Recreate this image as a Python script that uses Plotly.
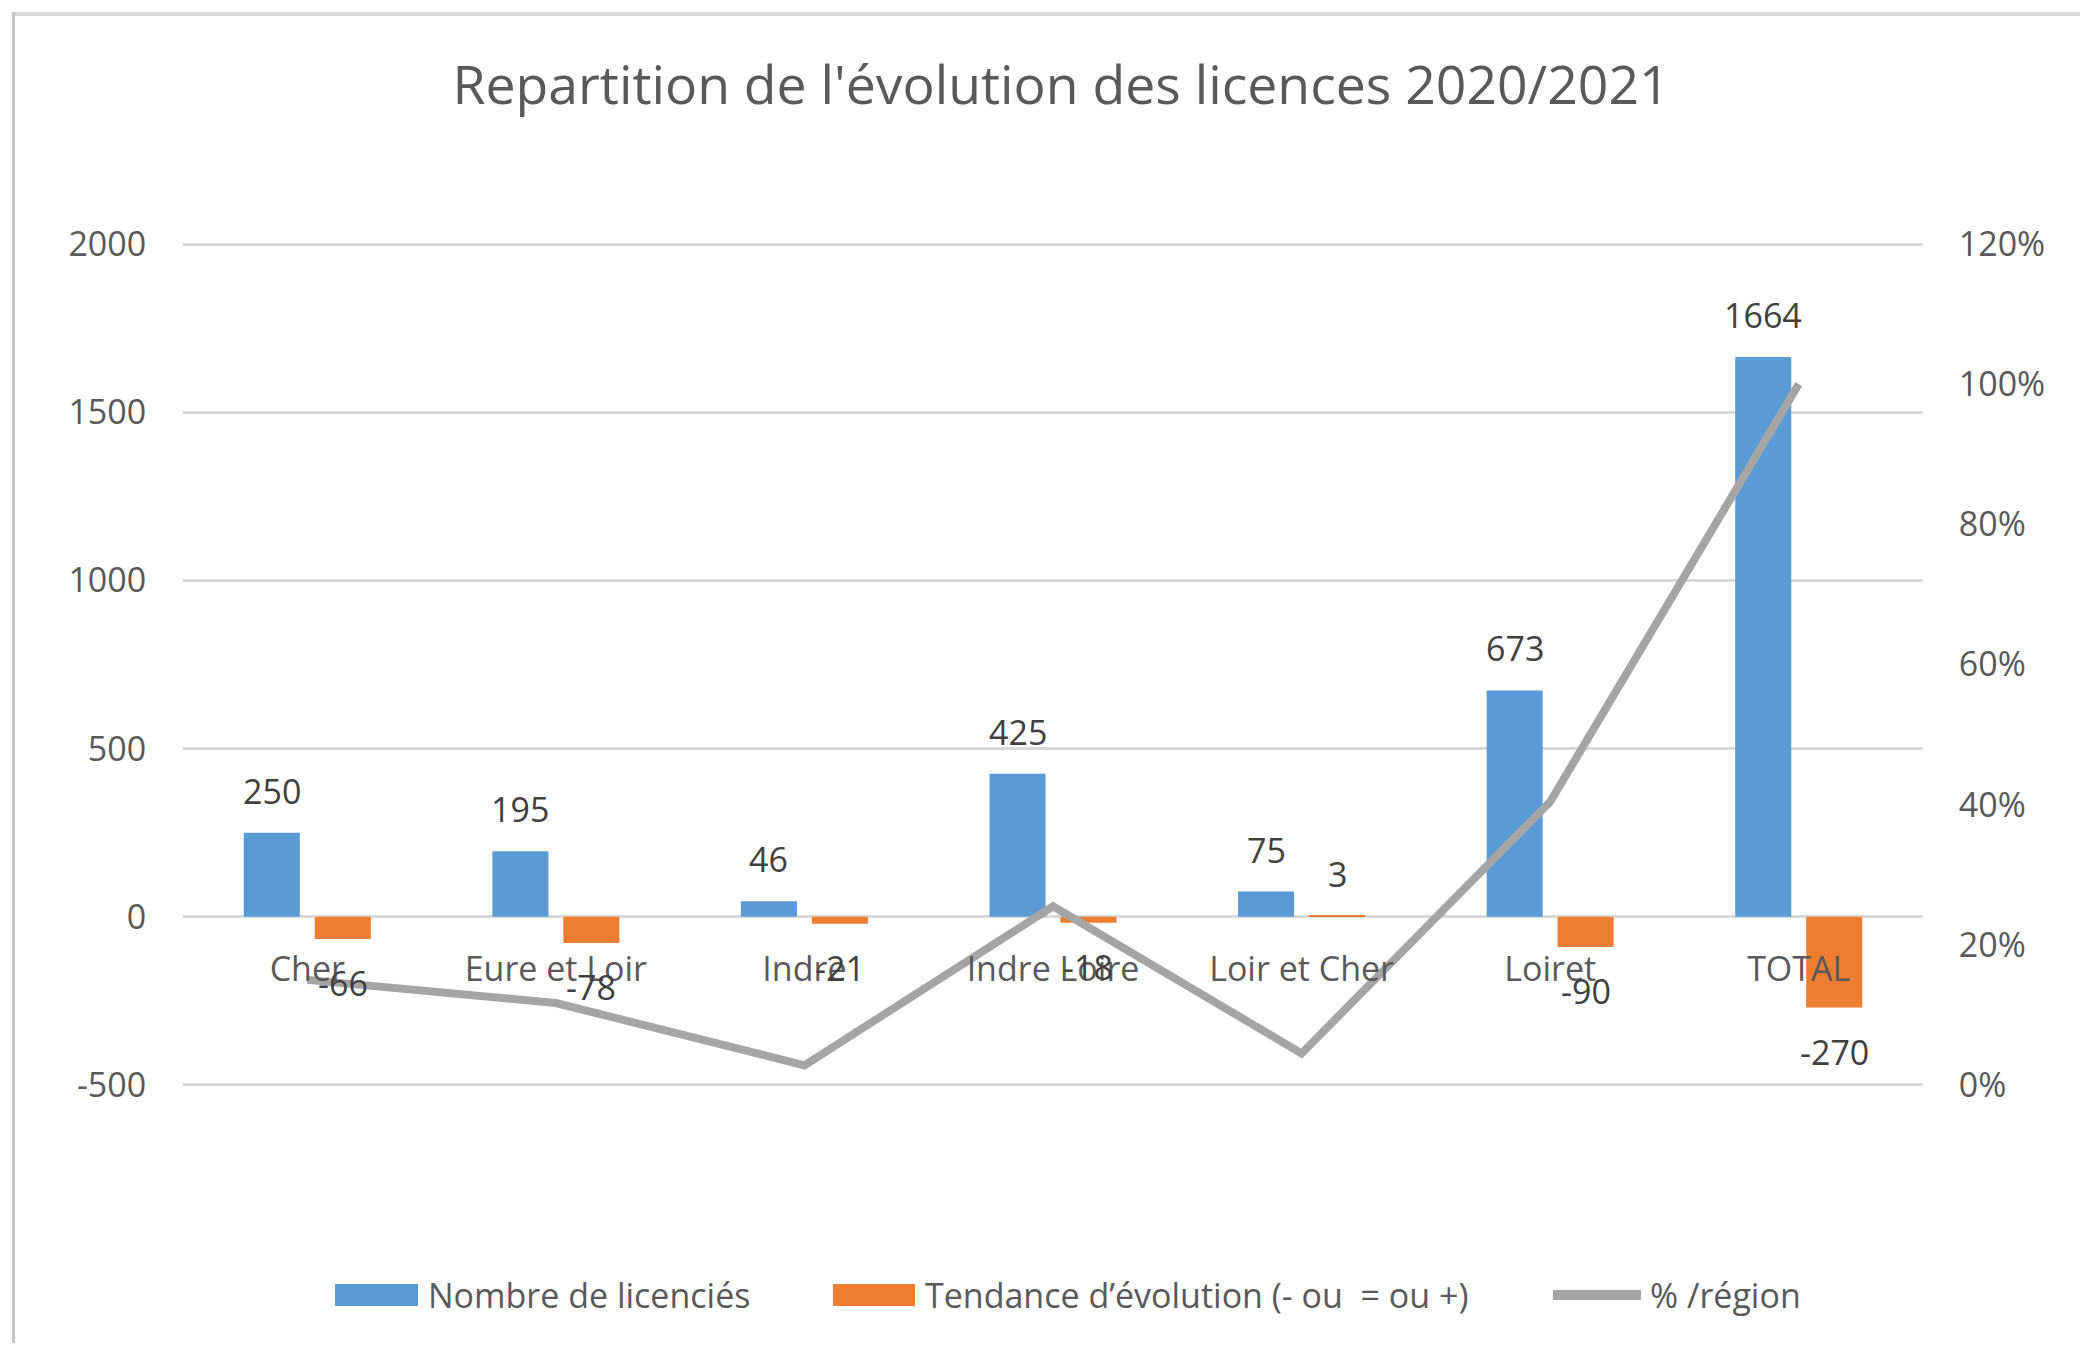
import plotly.graph_objects as go

# ---- data ----
categories = ["Cher", "Eure et Loir", "Indre", "Indre Loire", "Loir et Cher", "Loiret", "TOTAL"]
licencies = [250, 195, 46, 425, 75, 673, 1664]
tendance = [-66, -78, -21, -18, 3, -90, -270]
pct_region = [0.15, 0.117, 0.028, 0.255, 0.045, 0.404, 1.0]

left_ticks = [-500, 0, 500, 1000, 1500, 2000]
right_ticks = [0, 0.2, 0.4, 0.6, 0.8, 1.0, 1.2]
series_names = ["Nombre de licenciés", "Tendance d’évolution (- ou  = ou +)", "% /région"]

# ---- style ----
# page body has an 8px margin, so the figure is 16px smaller than the window
W, H = 2072, 1335
ML, MR, MT, MB = 175, 157, 235, 257
BLUE = "#5B9BD5"
ORANGE = "#ED7D31"
GRAY = "#A5A5A5"
GRID = "#D9D9D9"
TXT = "#595959"
LBL = "#404040"
FONT = "Open Sans"
FS = 34
PAD = 3  # axis range padding so the edge gridlines are drawn

plot_w = W - ML - MR
plot_h = H - MT - MB


def px(fx):
    return (fx - ML) / plot_w


def py(fy):
    return (H - MB - fy) / plot_h


fig = go.Figure()
fig.add_trace(go.Bar(x=categories, y=licencies, name=series_names[0], showlegend=False,
                     marker=dict(color=BLUE, line=dict(width=0))))
fig.add_trace(go.Bar(x=categories, y=tendance, name=series_names[1], showlegend=False,
                     marker=dict(color=ORANGE, line=dict(width=0))))
fig.add_trace(go.Scatter(x=categories, y=pct_region, name=series_names[2], yaxis="y2",
                         showlegend=False, mode="lines",
                         line=dict(color=GRAY, width=8)))

# data labels
BARGAP = 0.429
cat_w = plot_w / len(categories)
off = cat_w * (1 - BARGAP) / 4
annots = []
for i, c in enumerate(categories):
    for vals, sh in ((licencies, -off), (tendance, off)):
        v = vals[i]
        annots.append(dict(x=c, y=v, xref="x", yref="y", text=str(v), showarrow=False,
                           xshift=sh, yshift=42 if v >= 0 else -44,
                           font=dict(family=FONT, size=FS, color=LBL)))

# custom legend (swatches + real text)
LEG_Y = 1287
shapes = [
    dict(type="rect", xref="paper", yref="paper", x0=px(327), x1=px(410),
         y0=py(LEG_Y - 11), y1=py(LEG_Y + 11), fillcolor=BLUE, line=dict(width=0)),
    dict(type="rect", xref="paper", yref="paper", x0=px(825), x1=px(907),
         y0=py(LEG_Y - 11), y1=py(LEG_Y + 11), fillcolor=ORANGE, line=dict(width=0)),
    dict(type="line", xref="paper", yref="paper", x0=px(1545), x1=px(1633),
         y0=py(LEG_Y), y1=py(LEG_Y), line=dict(color=GRAY, width=10)),
]
for name, fx in zip(series_names, (418, 915, 1640)):
    annots.append(dict(x=px(fx), y=py(LEG_Y), xref="paper", yref="paper", text=name,
                       showarrow=False, xanchor="left", yanchor="middle",
                       font=dict(family=FONT, size=FS, color=TXT)))

# outer chart border (top and left edges)
shapes += [
    dict(type="line", xref="paper", yref="paper", x0=px(4), x1=px(W),
         y0=py(6), y1=py(6), line=dict(color="#D9D9D9", width=4)),
    dict(type="line", xref="paper", yref="paper", x0=px(5.5), x1=px(5.5),
         y0=py(4), y1=py(H), line=dict(color="#C8C8C8", width=3)),
]

lo, hi = left_ticks[0] - PAD, left_ticks[-1] + PAD
zero_frac = (0 - lo) / (hi - lo)
scale = (right_ticks[-1] - right_ticks[0]) / (left_ticks[-1] - left_ticks[0])
r_lo, r_hi = right_ticks[0] - PAD * scale, right_ticks[-1] + PAD * scale

fig.update_layout(
    width=W, height=H,
    margin=dict(l=ML, r=MR, t=MT, b=MB, pad=0),
    paper_bgcolor="white", plot_bgcolor="white",
    barmode="group", bargap=BARGAP, bargroupgap=0.21,
    showlegend=False,
    font=dict(family=FONT, size=FS, color=TXT),
    title=dict(text="Repartition de l'évolution des licences 2020/2021",
               x=px(1053), xref="paper", xanchor="center",
               y=1 - 77 / H, yref="container", yanchor="middle",
               font=dict(family=FONT, size=53.5, color=TXT)),
    xaxis=dict(type="category", anchor="free", position=zero_frac,
               showline=False, showgrid=False, zeroline=False,
               ticks="outside", ticklen=22, tickcolor="rgba(0,0,0,0)",
               tickfont=dict(family=FONT, size=FS, color=TXT)),
    yaxis=dict(range=[lo, hi], tickvals=left_ticks, ticktext=[str(v) for v in left_ticks],
               showgrid=True, gridcolor=GRID, gridwidth=2.5, zeroline=False,
               showline=False, ticks="outside", ticklen=29, tickcolor="rgba(0,0,0,0)",
               tickfont=dict(family=FONT, size=FS, color=TXT)),
    yaxis2=dict(range=[r_lo, r_hi], tickvals=right_ticks,
                ticktext=[f"{round(v * 100)}%" for v in right_ticks],
                overlaying="y", side="right",
                showgrid=False, zeroline=False, showline=False,
                ticks="outside", ticklen=28, tickcolor="rgba(0,0,0,0)",
                tickfont=dict(family=FONT, size=FS, color=TXT)),
    annotations=annots,
    shapes=shapes,
)

fig.write_html("out.html")
